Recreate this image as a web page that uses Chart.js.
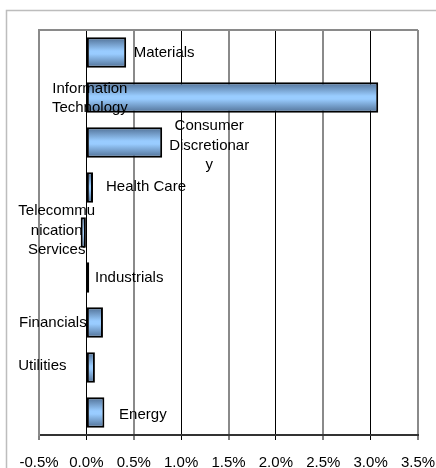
<!DOCTYPE html>
<html>
<head>
<meta charset="utf-8">
<script src="https://cdn.jsdelivr.net/npm/chart.js@4/dist/chart.umd.min.js"></script>
<style>
  html, body { margin: 0; padding: 0; background: #fff; }
  #wrap { width: 436px; height: 468px; position: relative; }
</style>
</head>
<body>
<div id="wrap"><canvas id="sectorChart"></canvas></div>
<script>
// sector contribution (%), top to bottom as drawn
var categories = ['Materials', 'Information Technology', 'Consumer Discretionary', 'Health Care',
    'Telecommunication Services', 'Industrials', 'Financials', 'Utilities', 'Energy'];
var labelLines = [['Materials'], ['Information', 'Technology'], ['Consumer', 'Discretionar', 'y'],
    ['Health Care'], ['Telecommu', 'nication', 'Services'], ['Industrials'], ['Financials'],
    ['Utilities'], ['Energy']];
var contribution = [0.42, 3.08, 0.80, 0.07, -0.06, 0.03, 0.175, 0.09, 0.19];
var xMin = -0.5, xMax = 3.5, xStep = 0.5;

var FONT = "'Liberation Sans', Arial, sans-serif";
Chart.defaults.font.family = FONT;
Chart.defaults.font.size = 15;
Chart.defaults.color = '#000';

var BAR_PCT = 0.68;

/** label placement: anchor = bar end or zero line, dx/dy = offset of text centre */
var labelAnchor = ['end', 'base', 'end', 'end', 'end', 'end', 'base', 'base', 'end'];
var labelDx = [38, 3.5, 47, 53, -24, 40, -33.5, -44, 38.5];
var labelDy = [0, 1, 3, -1, -2, 0, 0, -2, 2];

function barGradient(ctx) {
    var chart = ctx.chart;
    var ys = chart.scales.y;
    if (!ys || ctx.type !== 'data') return '#99ccff';
    var cy = ys.getPixelForValue(ctx.dataIndex);
    var half = (ys.bottom - ys.top) / categories.length * BAR_PCT / 2;
    if (!isFinite(cy) || !isFinite(half) || half <= 0) return '#99ccff';
    var g = chart.ctx.createLinearGradient(0, cy - half, 0, cy + half);
    g.addColorStop(0, '#4f6e93');
    g.addColorStop(0.45, '#99ccff');
    g.addColorStop(0.55, '#99ccff');
    g.addColorStop(1, '#4f6e93');
    return g;
}

var framePlugin = {
    id: 'frame',
    beforeDraw: function(chart) {
        var c = chart.ctx;
        c.save();
        c.fillStyle = '#fff';
        c.fillRect(0, 0, chart.width, chart.height);
        c.strokeStyle = '#bdbdbd';
        c.lineWidth = 1.5;
        c.strokeRect(6.5, 10.5, chart.width + 20, chart.height + 20);
        c.restore();
    },
    afterDraw: function(chart) {
        var a = chart.chartArea;
        var c = chart.ctx;
        c.save();
        c.strokeStyle = '#8a8a8a';
        c.lineWidth = 2;
        c.beginPath();
        c.moveTo(a.left, a.top);
        c.lineTo(a.right, a.top);
        c.stroke();
        c.restore();
    }
};

var labelPlugin = {
    id: 'catLabels',
    afterDatasetsDraw: function(chart) {
        var c = chart.ctx;
        var xs = chart.scales.x;
        var meta = chart.getDatasetMeta(0);
        var lh = 19.5;
        c.save();
        c.font = '15px ' + FONT;
        c.fillStyle = '#000';
        c.textAlign = 'center';
        c.textBaseline = 'middle';
        meta.data.forEach(function(bar, i) {
            var ax = labelAnchor[i] === 'end' ? xs.getPixelForValue(contribution[i]) : xs.getPixelForValue(0);
            var cx = ax + labelDx[i];
            var lines = labelLines[i];
            var cy = bar.y + labelDy[i] - (lines.length - 1) * lh / 2;
            lines.forEach(function(t, k) {
                c.fillText(t, cx, cy + k * lh);
            });
        });
        c.restore();
    }
};

new Chart(document.getElementById('sectorChart').getContext('2d'), {
    type: 'bar',
    data: {
        labels: categories,
        datasets: [{
            data: contribution,
            backgroundColor: barGradient,
            borderColor: '#000',
            borderWidth: 2,
            borderSkipped: false,
            categoryPercentage: 1,
            barPercentage: BAR_PCT
        }]
    },
    options: {
        indexAxis: 'y',
        responsive: true,
        maintainAspectRatio: false,
        animation: false,
        layout: { padding: { left: 39, right: 18, top: 30, bottom: 0 } },
        plugins: {
            legend: { display: false },
            tooltip: { enabled: false }
        },
        scales: {
            x: {
                min: xMin,
                max: xMax,
                ticks: {
                    stepSize: xStep,
                    padding: 14,
                    maxRotation: 0,
                    font: { size: 15 },
                    callback: function(v) { return Number(v).toFixed(1) + '%'; }
                },
                grid: {
                    color: function(ctx) { return ctx.index % 2 ? '#000' : '#8a8a8a'; },
                    lineWidth: function(ctx) { return ctx.index % 2 ? 1 : 2; },
                    tickColor: '#000',
                    tickWidth: 1,
                    tickLength: 5
                },
                border: { color: '#333', width: 2 },
                afterFit: function(s) {
                    s.height = 33;
                    s.paddingLeft = 0;
                    s.paddingRight = 0;
                }
            },
            y: {
                ticks: { display: false },
                grid: { display: false },
                border: { display: true, color: '#8a8a8a', width: 2 },
                afterFit: function(s) { s.width = 0; }
            }
        }
    },
    plugins: [framePlugin, labelPlugin]
});
</script>
</body>
</html>
